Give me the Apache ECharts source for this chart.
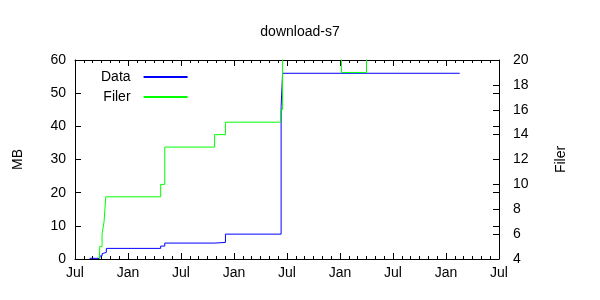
<!DOCTYPE html>
<html><head><meta charset="utf-8">
<script src="https://cdn.jsdelivr.net/npm/echarts@6/dist/echarts.min.js"></script>
<style>html,body{margin:0;padding:0;background:#fff}#c{width:600px;height:300px}</style>
</head><body><div id="c"></div>
<script>
// Data series (MB, left axis): [date, value]
const dataDates = ['2008-08-21','2008-09-25','2008-10-03','2008-10-10','2008-10-18','2009-04-22','2009-05-06','2009-10-26','2009-12-02','2010-06-11','2010-06-16','2012-02-17'];
const dataMB    = [0.2, 0.9, 1.6, 2.0, 3.2, 3.9, 4.8, 5.0, 7.5, 45.9, 56.0, 56.0];
// Filer series (count, right axis)
const filerDates = ['2008-09-24','2008-09-25','2008-10-03','2008-10-10','2008-10-16','2009-04-22','2009-05-06','2009-10-26','2009-12-02','2010-06-09','2010-06-16','2011-01-06','2011-04-01','2012-02-17'];
const filerCount = [4, 5, 6, 7, 9, 10, 13, 14, 15, 16, 21, 19, 21, 21];
const xTickLabels = ['Jul','Jan'];
const startYear = 2008, startMonth = 7;

function toMonths(s){
  const [y,m,d] = s.split('-').map(Number);
  const dim = new Date(y, m, 0).getDate();
  return (y-startYear)*12 + (m-startMonth) + (d-1)/dim;
}
const dataSeries = dataDates.map((d,i)=>[toMonths(d), dataMB[i]]);
const filerSeries = filerDates.map((d,i)=>[toMonths(d), filerCount[i]]);

const font = 'Liberation Sans, Arial, sans-serif';
const txt = {color:'#000', fontFamily:font, fontSize:14};
const line = {show:true, onZero:false, lineStyle:{color:'#000', width:1}};
const chart = echarts.init(document.getElementById('c'), null, {renderer:'canvas'});
chart.setOption({
  animation:false,
  backgroundColor:'#fff',
  title:{text:'download-s7', left:'center', top:20, textStyle:{...txt, fontWeight:'normal'}},
  grid:{left:75, right:101, top:60, bottom:41},
  legend:{
    orient:'vertical', left:96, top:65, align:'right', itemWidth:44, itemHeight:2, itemGap:6,
    icon:'rect',
    textStyle:{...txt, padding:[0,8,0,0]},
    data:[{name:'Data'},{name:'Filer'}]
  },
  xAxis:[{
    type:'value', min:0, max:48, interval:6, position:'bottom',
    axisLine:line,
    axisTick:{show:true, inside:true, length:6, lineStyle:{color:'#000'}},
    minorTick:{show:true, splitNumber:6, length:3, lineStyle:{color:'#000'}},
    splitLine:{show:false},
    axisLabel:{...txt, margin:7, formatter:v=>xTickLabels[Math.round(v/6)%2]}
  },{
    type:'value', min:0, max:48, interval:6, position:'top',
    axisLine:line,
    axisTick:{show:true, inside:true, length:6, lineStyle:{color:'#000'}},
    minorTick:{show:true, splitNumber:6, length:3, lineStyle:{color:'#000'}},
    splitLine:{show:false}, axisLabel:{show:false}
  }],
  yAxis:[{
    type:'value', min:0, max:60, interval:10, position:'left',
    name:'MB', nameLocation:'middle', nameGap:50, nameRotate:90, nameTextStyle:{...txt},
    axisLine:line,
    axisTick:{show:true, inside:true, length:6, lineStyle:{color:'#000'}},
    splitLine:{show:false},
    axisLabel:{...txt, margin:9}
  },{
    type:'value', min:4, max:20, interval:2, position:'right',
    name:'Filer', nameLocation:'middle', nameGap:55, nameRotate:90, nameTextStyle:{...txt},
    axisLine:line,
    axisTick:{show:true, inside:true, length:6, lineStyle:{color:'#000'}},
    splitLine:{show:false},
    axisLabel:{...txt, margin:14}
  },{
    type:'value', min:0, max:60, interval:10, position:'right',
    axisLine:{show:false, onZero:false},
    axisTick:{show:true, inside:true, length:6, lineStyle:{color:'#000'}},
    splitLine:{show:false}, axisLabel:{show:false}
  }],
  series:[{
    name:'Data', type:'line', step:'end', xAxisIndex:0, yAxisIndex:0,
    data:dataSeries, showSymbol:false, clip:true,
    color:'#0000ff', lineStyle:{color:'#0000ff', width:1}
  },{
    name:'Filer', type:'line', step:'end', xAxisIndex:0, yAxisIndex:1,
    data:filerSeries, showSymbol:false, clip:true,
    color:'#00ff00', lineStyle:{color:'#00ff00', width:1}
  }]
});
</script></body></html>
